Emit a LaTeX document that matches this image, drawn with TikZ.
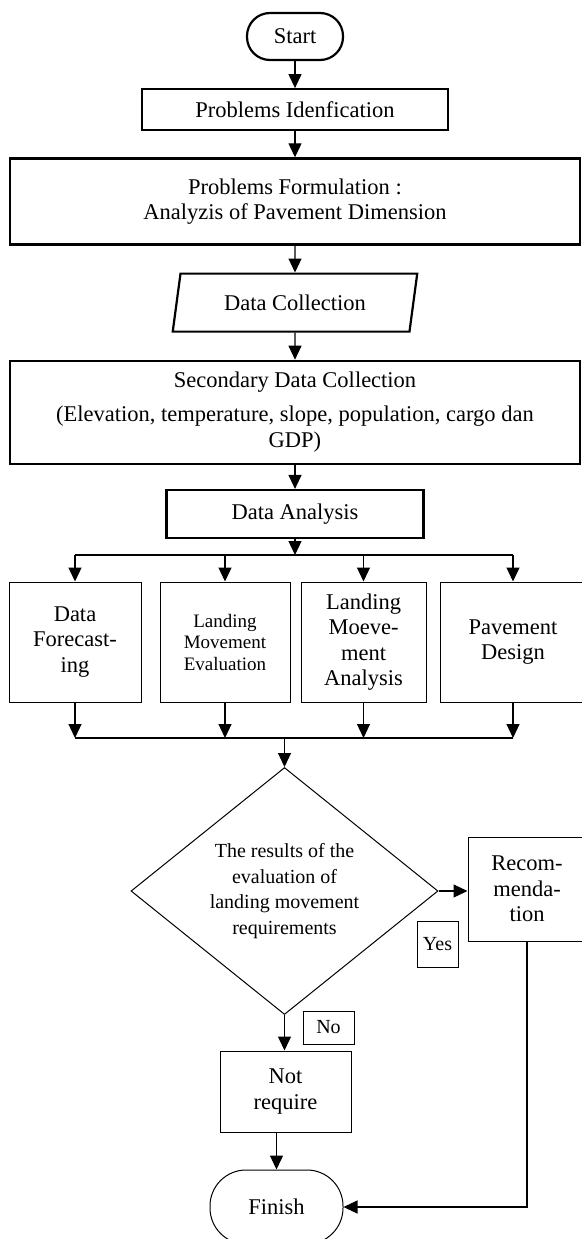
\documentclass[tikz,border=0pt]{standalone}
\usepackage{fontspec}
\setmainfont{Liberation Serif}
\usetikzlibrary{positioning, arrows.meta, shapes.geometric}

\begin{document}
\begin{tikzpicture}[
    x=1pt, y=-1pt,
    >={Triangle[length=14pt, width=13pt]},
    node distance=26pt,
    every node/.style={align=center, inner sep=2pt, font=\fontsize{22.5}{25.5}\selectfont},
    heavy/.style={draw, line width=2.2pt},
    plain/.style={draw, line width=1pt},
    lbl/.style={font=\fontsize{20}{25.5}\selectfont},
    every edge/.style={draw, line width=1.2pt, ->}
]
    \useasboundingbox (0,0) rectangle (581,1239);

    % main column
    \node[heavy, rounded corners=23pt, minimum width=96pt, minimum height=47pt] (start) at (295,36.5) {Start};
    \node[heavy, minimum width=306pt, minimum height=41pt, below=27pt of start] (ident) {Problems Idenfication};
    \node[heavy, minimum width=570pt, minimum height=86pt, below=of ident] (formul) {Problems Formulation :\\Analyzis of Pavement Dimension};
    \node[heavy, trapezium, trapezium left angle=76, trapezium right angle=104, trapezium stretches=true,
          minimum width=245pt, minimum height=58pt, below=27pt of formul] (collect) {Data Collection};
    \node[heavy, minimum width=570pt, minimum height=103pt, below=27pt of collect] (second)
        {Secondary Data Collection\\[8.5pt](Elevation, temperature, slope, population, cargo dan\\GDP)};
    \node[heavy, minimum width=257pt, minimum height=48pt, below=24pt of second] (analysis) {Data Analysis};

    % the four analysis steps
    \coordinate (split) at (295,555);
    \node[plain, minimum width=132pt, minimum height=120pt] (fcast) at (75,642) {Data\\Forecast-\\ing};
    \node[plain, minimum width=130pt, minimum height=120pt, font=\fontsize{19}{21.5}\selectfont] (evalu) at (225,642) {Landing\\Movement\\Evaluation};
    \node[plain, minimum width=125pt, minimum height=120pt] (movan) at (363.5,642) {Landing\\Moeve-\\ment\\Analysis};
    \node[plain, minimum width=146pt, minimum height=120pt] (pave) at (513,642) {Pavement\\Design};
    \coordinate (merge) at (283,738);

    % decision and outcomes
    \node[plain, lbl, diamond, aspect=1.24, inner sep=0pt, minimum width=307pt, minimum height=247pt] (check) at (284.5,891)
        {The results of the\\evaluation of\\landing movement\\requirements};
    \node[plain, minimum width=118pt, minimum height=104pt] (recom) at (527,889) {Recom-\\menda-\\tion};
    \node[plain, lbl, minimum width=41pt, minimum height=46pt] (yes) at (437.5,944) {Yes};
    \node[plain, lbl, minimum width=51pt, minimum height=33pt] (no) at (328.5,1027.5) {No};
    \node[plain, minimum width=131pt, minimum height=81pt] (notreq) at (285.5,1091.5) {Not\\require};
    \node[plain, rounded corners=36pt, minimum width=133pt, minimum height=74pt] (finish) at (276.5,1207) {Finish};

    \path (start) edge (ident)
          (ident) edge (formul)
          (formul) edge (collect)
          (collect) edge (second)
          (second) edge (analysis)
          (analysis) edge (analysis.south |- split);

    \draw[line width=1.2pt] (fcast.north |- split) -- (pave.north |- split);
    \draw[line width=1.2pt] (fcast.south |- merge) -- (pave.south |- merge);
    \foreach \b in {fcast, evalu, movan, pave} {
        \path (\b.north |- split) edge (\b.north)
              (\b.south) edge (\b.south |- merge);
    }

    \path (check.north |- merge) edge (check.north)
          (check.east) edge (check.east -| recom.west)
          (check.south) edge (check.south |- notreq.north)
          (finish.north |- notreq.south) edge (finish.north);
    \draw[->, line width=1.2pt] (recom.south) |- (finish.east);
\end{tikzpicture}
\end{document}
